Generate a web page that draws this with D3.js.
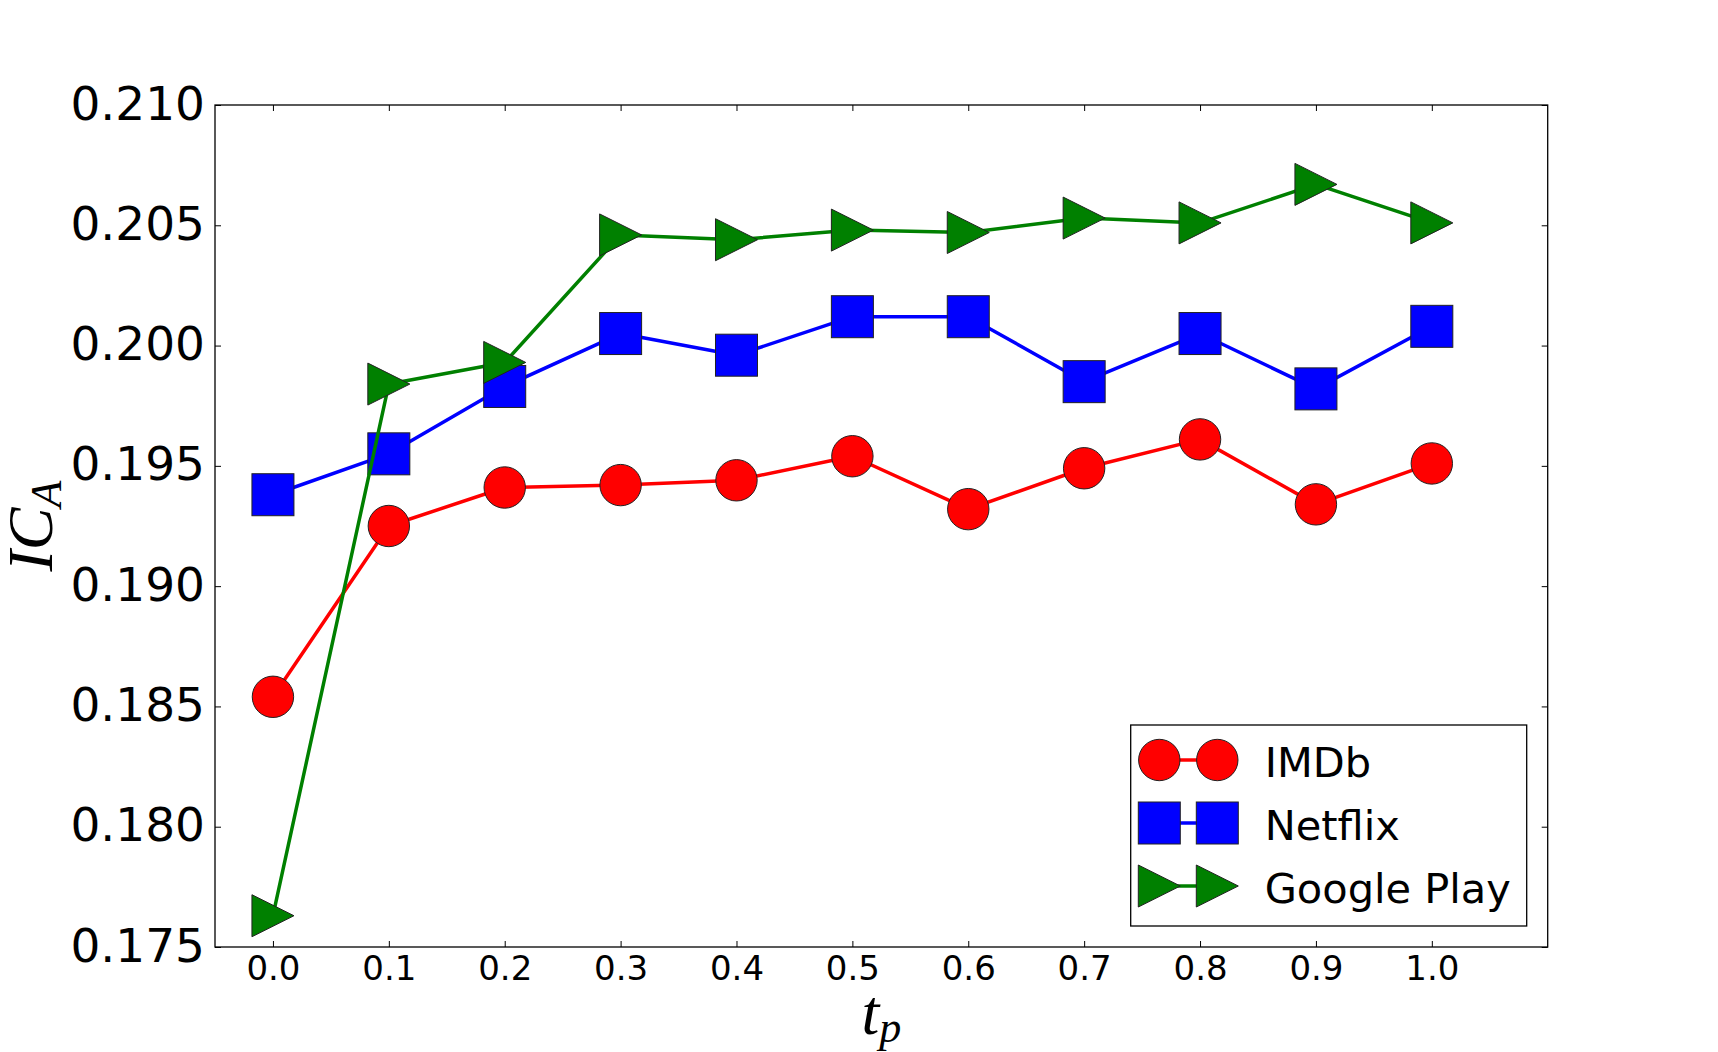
<!DOCTYPE html>
<html>
<head>
<meta charset="utf-8">
<script src="https://cdn.jsdelivr.net/npm/d3@7"></script>
<style>
  html, body { margin: 0; padding: 0; background: #fff; }
  svg { display: block; }
</style>
</head>
<body>
<div id="chart"></div>
<script>
// data
const tp = [0.0, 0.1, 0.2, 0.3, 0.4, 0.5, 0.6, 0.7, 0.8, 0.9, 1.0];
const imdb = [0.1854, 0.1925, 0.1941, 0.1942, 0.1944, 0.1954, 0.1932, 0.1949, 0.1961, 0.1934, 0.1951];
const netflix = [0.1938, 0.1955, 0.1983, 0.2005, 0.1996, 0.2012, 0.2012, 0.1985, 0.2005, 0.1982, 0.2008];
const googlePlay = [0.1763, 0.1984, 0.1993, 0.2046, 0.2044, 0.2048, 0.2047, 0.2053, 0.2051, 0.2067, 0.2051];
const seriesNames = ["IMDb", "Netflix", "Google Play"];
const yTicks = [0.175, 0.180, 0.185, 0.190, 0.195, 0.200, 0.205, 0.210];
const xTicks = [0.0, 0.1, 0.2, 0.3, 0.4, 0.5, 0.6, 0.7, 0.8, 0.9, 1.0];

/* svg setup */
const width = 1718, height = 1052;
const margin = { top: 105, right: 170.3, bottom: 105, left: 215 };
const plotW = width - margin.left - margin.right;
const plotH = height - margin.top - margin.bottom;

const svg = d3.select("#chart")
  .append("svg")
  .attr("width", width)
  .attr("height", height);

const g = svg.append("g")
  .attr("transform", "translate(" + margin.left + "," + margin.top + ")");

const x = d3.scaleLinear().domain([-0.05, 1.1]).range([0, plotW]);
const y = d3.scaleLinear().domain([0.175, 0.210]).range([plotH, 0]);

const tickFont = "'DejaVu Sans', sans-serif";

// left axis with labels, ticks pointing inward
const yAxisG = g.append("g")
  .call(d3.axisLeft(y).tickValues(yTicks).tickSizeInner(-6).tickSizeOuter(0)
    .tickPadding(10).tickFormat(d3.format(".3f")));
yAxisG.select(".domain").remove();
yAxisG.selectAll("text")
  .attr("font-family", tickFont).attr("font-size", 47).attr("fill", "#000").attr("dy", "0.3em");

// bottom axis
const xAxisG = g.append("g")
  .attr("transform", `translate(0, ${plotH})`)
  .call(d3.axisBottom(x).tickValues(xTicks).tickSizeInner(-6).tickSizeOuter(0)
    .tickPadding(9).tickFormat(d3.format(".1f")));
xAxisG.select(".domain").remove();
xAxisG.selectAll("text")
  .attr("font-family", tickFont).attr("font-size", 34).attr("fill", "#000");

// mirrored ticks on top and right
const topAxisG = g.append("g")
  .call(d3.axisTop(x).tickValues(xTicks).tickSizeInner(-6).tickSizeOuter(0).tickFormat(""));
topAxisG.select(".domain").remove();
const rightAxisG = g.append("g")
  .attr("transform", `translate(${plotW}, 0)`)
  .call(d3.axisRight(y).tickValues(yTicks).tickSizeInner(-6).tickSizeOuter(0).tickFormat(""));
rightAxisG.select(".domain").remove();

g.selectAll(".tick line").attr("stroke", "#000").attr("stroke-width", 1);

// frame
g.append("rect")
  .attr("x", 0).attr("y", 0)
  .attr("width", plotW).attr("height", plotH)
  .attr("fill", "none").attr("stroke", "#000").attr("stroke-width", 1.3);

/*
 * series
 */
const series = [
  { name: seriesNames[0], values: imdb, color: "#ff0000", shape: "circle" },
  { name: seriesNames[1], values: netflix, color: "#0000ff", shape: "square" },
  { name: seriesNames[2], values: googlePlay, color: "#008000", shape: "triangle" }
];

const mSize = 42;
function drawMarker(sel, shape, color, cx, cy) {
  if (shape === "circle") {
    sel.append("circle").attr("cx", cx).attr("cy", cy).attr("r", 20.7)
      .attr("fill", color).attr("stroke", "#222").attr("stroke-width", 1);
  } else if (shape === "square") {
    sel.append("rect").attr("x", cx - mSize / 2).attr("y", cy - mSize / 2)
      .attr("width", mSize).attr("height", mSize)
      .attr("fill", color).attr("stroke", "#222").attr("stroke-width", 1);
  } else {
    const h = mSize / 2;
    sel.append("path")
      .attr("d", `M${cx - h},${cy - h}L${cx + h},${cy}L${cx - h},${cy + h}Z`)
      .attr("fill", color).attr("stroke", "#222").attr("stroke-width", 1);
  }
}

const line = d3.line().x((d, i) => x(tp[i])).y(d => y(d));

series.forEach(s => {
  const sg = g.append("g");
  sg.append("path")
    .attr("d", line(s.values))
    .attr("fill", "none")
    .attr("stroke", s.color)
    .attr("stroke-width", 3.5)
    .attr("stroke-linejoin", "round");
  s.values.forEach((v, i) => drawMarker(sg, s.shape, s.color, x(tp[i]), y(v)));
});

/*
 * legend
 */
const legend = svg.append("g").attr("transform", "translate(1130.7, 725)");
legend.append("rect")
  .attr("width", 396).attr("height", 201)
  .attr("fill", "#fff").attr("stroke", "#000").attr("stroke-width", 1.3);

series.forEach((s, i) => {
  const cy = 35 + i * 63;
  const row = legend.append("g");
  row.append("line")
    .attr("x1", 28.6).attr("x2", 86.6).attr("y1", cy).attr("y2", cy)
    .attr("stroke", s.color).attr("stroke-width", 3.5);
  drawMarker(row, s.shape, s.color, 28.6, cy);
  drawMarker(row, s.shape, s.color, 86.6, cy);
  row.append("text")
    .attr("x", 134).attr("y", cy + 16.5)
    .attr("font-family", tickFont).attr("font-size", 41.5)
    .attr("fill", "#000")
    .text(s.name);
});

/*
 * axis labels (math style)
 */
const mathFont = "'Liberation Serif', 'DejaVu Serif', serif";
const yLabel = svg.append("text")
  .attr("transform", `translate(52, ${margin.top + plotH / 2}) rotate(-90)`)
  .attr("text-anchor", "middle")
  .attr("font-family", mathFont).attr("font-style", "italic")
  .attr("font-size", 64).attr("fill", "#000");
yLabel.append("tspan").text("IC");
yLabel.append("tspan").attr("font-size", 44).attr("dy", 9).text("A");

const xLabel = svg.append("text")
  .attr("x", margin.left + plotW / 2)
  .attr("y", 1034)
  .attr("text-anchor", "middle")
  .attr("font-family", mathFont).attr("font-style", "italic")
  .attr("font-size", 64).attr("fill", "#000");
xLabel.append("tspan").text("t");
xLabel.append("tspan").attr("font-size", 44).attr("dy", 8).text("p");
</script>
</body>
</html>
